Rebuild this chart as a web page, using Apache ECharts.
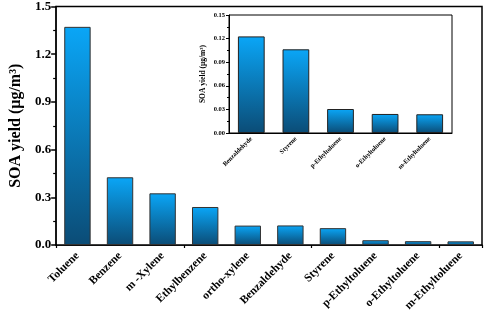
<!DOCTYPE html>
<html><head><meta charset="utf-8">
<script src="https://cdn.jsdelivr.net/npm/echarts@6/dist/echarts.min.js"></script>
<style>html,body{margin:0;padding:0;background:#fff}#c{width:484px;height:316px}</style>
</head><body><div id="c"></div>
<script>
var categories = ['Toluene','Benzene','m -Xylene','Ethylbenzene','ortho-xylene','Benzaldehyde','Styrene','p-Ethyltoluene','o-Ethyltoluene','m-Ethyltoluene'];
var values = [1.372, 0.426, 0.325, 0.239, 0.122, 0.123, 0.106, 0.030, 0.024, 0.023];
var insetCategories = ['Benzaldehyde','Styrene','p-Ethyltoluene','o-Ethyltoluene','m-Ethyltoluene'];
var insetValues = [0.1228, 0.1064, 0.0305, 0.0242, 0.0238];
var mainTicks = ['0.0','0.3','0.6','0.9','1.2','1.5'];
var insetTicks = ['0.00','0.03','0.06','0.09','0.12','0.15'];

var FONT = '"Liberation Serif","DejaVu Serif",serif';
var grad = new echarts.graphic.LinearGradient(0,0,0,1,[
  {offset:0,color:'#0aa6f7'},{offset:1,color:'#0b4c76'}]);
var chart = echarts.init(document.getElementById('c'));
chart.setOption({
  animation:false,
  grid:[
    {left:42, top:4, right:2, bottom:71, show:true, borderColor:'#000', borderWidth:1.5, backgroundColor:'#fff', z:1},
    {left:229, top:15, right:32, bottom:183, show:true, borderColor:'#000', borderWidth:1, backgroundColor:'#fff', z:5}
  ],
  xAxis:[
    {type:'category', gridIndex:0, data:categories,
     axisLine:{lineStyle:{color:'#000',width:1.5}},
     axisTick:{alignWithLabel:true, length:5, lineStyle:{color:'#000',width:1.5}},
     axisLabel:{rotate:45, margin:9, color:'#000', fontFamily:FONT, fontWeight:'bold', fontSize:11.5, interval:0}},
    {type:'category', gridIndex:0, data:categories, position:'bottom',
     axisLine:{show:false}, axisLabel:{show:false},
     axisTick:{show:true, length:3, lineStyle:{color:'#000',width:1.2}}},
    {type:'category', gridIndex:1, data:insetCategories, z:6,
     axisLine:{lineStyle:{color:'#000',width:1}},
     axisTick:{alignWithLabel:true, length:3, lineStyle:{color:'#000'}},
     axisLabel:{rotate:45, margin:5, color:'#000', fontFamily:FONT, fontWeight:'bold', fontSize:6.5, interval:0}}
  ],
  yAxis:[
    {type:'value', gridIndex:0, min:0, max:1.5, interval:0.3,
     name:'SOA yield (μg/m³)', nameLocation:'middle', nameGap:28,
     nameTextStyle:{color:'#000', fontFamily:FONT, fontWeight:'bold', fontSize:16},
     axisLine:{show:true, lineStyle:{color:'#000',width:1.5}},
     axisTick:{show:true, length:5, lineStyle:{color:'#000',width:1.5}},
     minorTick:{show:true, splitNumber:2, length:3, lineStyle:{color:'#000',width:1.2}},
     splitLine:{show:false},
     axisLabel:{margin:5, color:'#000', fontFamily:FONT, fontWeight:'bold', fontSize:13,
       formatter:function(v){return mainTicks[Math.round(v/0.3)];}}},
    {type:'value', gridIndex:1, min:0, max:0.15, interval:0.03, z:6,
     name:'SOA yield (μg/m³)', nameLocation:'middle', nameGap:22,
     nameTextStyle:{color:'#000', fontFamily:FONT, fontWeight:'bold', fontSize:7.5},
     axisLine:{show:true, lineStyle:{color:'#000',width:1}},
     axisTick:{show:true, length:3, lineStyle:{color:'#000'}},
     minorTick:{show:true, splitNumber:2, length:2, lineStyle:{color:'#000'}},
     splitLine:{show:false},
     axisLabel:{margin:4, color:'#000', fontFamily:FONT, fontWeight:'bold', fontSize:6.5,
       formatter:function(v){return insetTicks[Math.round(v/0.03)];}}}
  ],
  series:[
    {type:'bar', xAxisIndex:0, yAxisIndex:0, data:values, barWidth:'62%', z:2,
     itemStyle:{color:grad, borderColor:'#333', borderWidth:1}},
    {type:'bar', xAxisIndex:2, yAxisIndex:1, data:insetValues, barWidth:'60%', z:7,
     itemStyle:{color:grad, borderColor:'#222', borderWidth:1}}
  ]
});
</script></body></html>
